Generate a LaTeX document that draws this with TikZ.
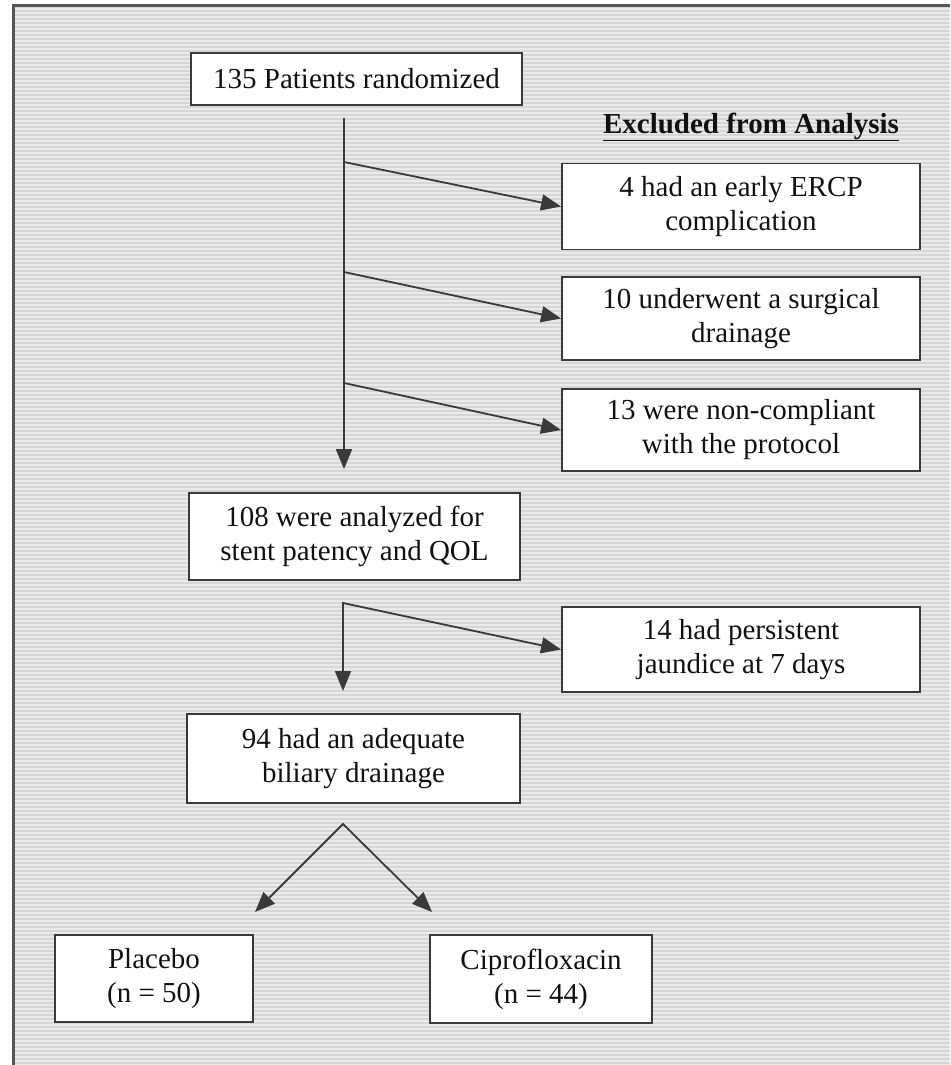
\documentclass[tikz,border=0pt]{standalone}
\usepackage{fontspec}
\setmainfont{Liberation Serif}
\usetikzlibrary{arrows.meta}
\definecolor{lncol}{HTML}{3A3A3A}
\definecolor{framecol}{HTML}{555555}
\definecolor{bgA}{HTML}{D6D6D6}
\definecolor{bgB}{HTML}{EAEAEA}
\definecolor{txtcol}{HTML}{111111}
\begin{document}
\begin{tikzpicture}[x=1pt,y=-1pt,
  box/.style={draw=lncol,line width=1.8pt,fill=white,inner sep=0pt,align=center,
    text=txtcol,font=\fontsize{29}{34}\selectfont},
  tip/.style={Triangle[length=20pt,width=16pt]},
  arr/.style={draw=lncol,line width=1.8pt,-{Triangle[length=20pt,width=16pt]}},
  arrboth/.style={draw=lncol,line width=1.8pt,{Triangle[length=20pt,width=16pt]}-{Triangle[length=20pt,width=16pt]}}]
% background
\useasboundingbox (0,0) rectangle (950,1065);
\fill[white] (0,0) rectangle (950,1065);
\fill[bgA] (13,6) rectangle (950,1065);
\foreach \yy in {9,13,...,1065} \draw[bgB,line width=2pt] (13,\yy) -- (950,\yy);
\draw[framecol,line width=3pt] (13,1065) -- (13,6) -- (950,6);
% boxes
\node[box,minimum width=331pt,minimum height=52pt] (b1) at (356.5,79) {135 Patients randomized};
\node[anchor=base,inner sep=0pt,text=txtcol,font=\fontsize{29}{34}\selectfont\bfseries] (ex) at (751,133) {\underline{Excluded from Analysis}};
\node[box,minimum width=358pt,minimum height=86pt] (e1) at (741,206.5) {4 had an early ERCP\\complication};
\node[box,minimum width=358pt,minimum height=83pt] (e2) at (741,318.5) {10 underwent a surgical\\drainage};
\node[box,minimum width=358pt,minimum height=82pt] (e3) at (741,430) {13 were non-compliant\\with the protocol};
\node[box,minimum width=331pt,minimum height=87pt] (b2) at (354.5,536.5) {108 were analyzed for\\stent patency and QOL};
\node[box,minimum width=358pt,minimum height=85pt] (e4) at (741,649.5) {14 had persistent\\jaundice at 7 days};
\node[box,minimum width=333pt,minimum height=89pt] (b3) at (353.5,758.5) {94 had an adequate\\biliary drainage};
\node[box,minimum width=198pt,minimum height=87pt] (p) at (154,978.5) {Placebo\\(n = 50)};
\node[box,minimum width=222pt,minimum height=88pt] (c) at (541,979) {Ciprofloxacin\\(n = 44)};
% connectors
\coordinate (s1) at (344,118);
\coordinate (j1) at (344,162);
\coordinate (j2) at (344,272);
\coordinate (j3) at (344,383);
\draw[arr,shorten >=23pt] (s1) -- (s1 |- b2.north);
\draw[arr] (j1) -- (e1.west);
\draw[arr] (j2) -- (e2.west);
\draw[arr] (j3) -- (e3.west);
\coordinate (s2) at (343,603);
\coordinate (t2) at (343,691);
\draw[arrboth] (t2) -- (s2) -- (e4.west);
\coordinate (ap) at (343,824);
\coordinate (tp) at (255,912);
\coordinate (tc) at (432,912);
\draw[arrboth,line join=miter] (tp) -- (ap) -- (tc);
\end{tikzpicture}
\end{document}
